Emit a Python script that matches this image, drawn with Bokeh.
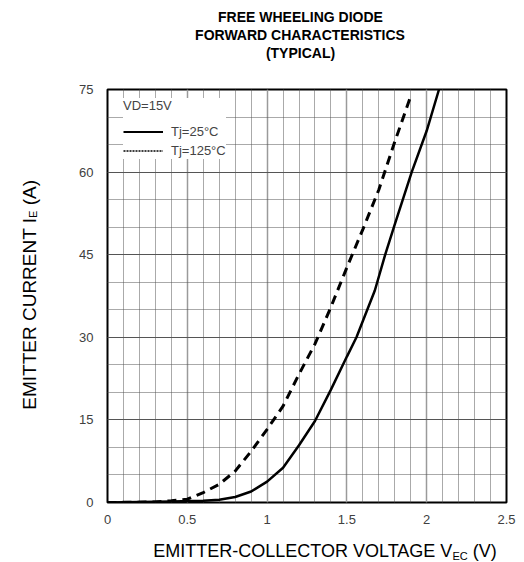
from bokeh.plotting import figure
from bokeh.models import FixedTicker, Legend, LegendItem, Title, Div
from bokeh.layouts import column, row
from bokeh.embed import file_html
from bokeh.resources import INLINE

# ---- data ----
v_25 = [0.0, 0.2, 0.4, 0.6, 0.7, 0.8, 0.9, 1.0, 1.1, 1.2, 1.3, 1.4, 1.5, 1.56, 1.675, 1.74, 1.8, 1.906, 2.0, 2.077]
i_25 = [0.0, 0.1, 0.2, 0.3, 0.5, 1.0, 2.0, 3.8, 6.3, 10.4, 14.8, 20.5, 26.5, 30.0, 38.5, 45.0, 50.5, 60.0, 67.5, 75.0]

v_125 = [0.0, 0.3, 0.4, 0.5, 0.6, 0.7, 0.8, 0.9, 1.0, 1.1, 1.2, 1.3, 1.4, 1.5, 1.6, 1.7, 1.8, 1.894]
i_125 = [0.0, 0.1, 0.3, 0.6, 1.8, 3.3, 5.7, 9.3, 13.3, 17.5, 23.3, 28.8, 35.5, 42.7, 49.6, 56.8, 65.5, 73.3]

x_ticks = [0, 0.5, 1.0, 1.5, 2.0, 2.5]
x_tick_labels = ["0", "0.5", "1", "1.5", "2", "2.5"]
x_minor = [round(0.1 * k, 1) for k in range(26)]
y_ticks = [0, 15, 30, 45, 60, 75]
y_minor = list(range(0, 76, 5))

title_lines = ["FREE WHEELING DIODE", "FORWARD CHARACTERISTICS", "(TYPICAL)"]
legend_title = "VD=15V"
series_labels = ["Tj=25°C", "Tj=125°C"]
x_title = ("EMITTER-COLLECTOR VOLTAGE V", "EC", " (V)")
y_title = ("EMITTER CURRENT I", "E", " (A)")

FONT = "Liberation Sans"

# Arial Bold advance widths (1/1000 em) for centring the title lines
BW = {' ': 278, '(': 333, ')': 333, 'A': 722, 'B': 722, 'C': 722, 'D': 722, 'E': 667, 'F': 611,
      'G': 778, 'H': 722, 'I': 278, 'L': 611, 'N': 722, 'O': 778, 'P': 667, 'R': 722, 'S': 667,
      'T': 611, 'W': 944, 'Y': 667}

FIG_W, FIG_H = 484, 540
YT_W = 524 - FIG_W
XT_H = 562 - FIG_H
LEFT = 67
FRAME_L = YT_W + LEFT          # frame's left edge on the page
TITLE_CX = 300                 # centre of the title on the page
TITLE_SZ = 14

p = figure(width=FIG_W, height=FIG_H, x_range=(0, 2.5), y_range=(0, 75),
           output_backend="svg", toolbar_location=None,
           min_border_left=LEFT, min_border_right=18, min_border_top=89, min_border_bottom=38)
p.background_fill_color = "white"
p.border_fill_color = "white"
p.outline_line_color = "black"
p.outline_line_width = 2

for ax in (p.xaxis[0], p.yaxis[0]):
    ax.axis_line_color = None
    ax.major_tick_line_color = None
    ax.minor_tick_line_color = None
    ax.major_tick_out = 0
    ax.major_tick_in = 0
    ax.minor_tick_out = 0
    ax.major_label_text_font = FONT
    ax.major_label_text_font_size = "13px"
    ax.major_label_text_color = "#404040"

p.xaxis.ticker = FixedTicker(ticks=x_ticks, minor_ticks=x_minor)
p.xaxis.major_label_overrides = {t: l for t, l in zip(x_ticks, x_tick_labels)}
p.xaxis.major_label_standoff = 12
p.yaxis.ticker = FixedTicker(ticks=y_ticks, minor_ticks=y_minor)
p.yaxis.major_label_standoff = 14

p.xgrid.grid_line_color = "#9a9a9a"
p.xgrid.grid_line_width = 1.5
p.xgrid.minor_grid_line_color = "#555555"
p.xgrid.minor_grid_line_dash = "1 1"
p.xgrid.minor_grid_line_width = 1
p.ygrid.grid_line_color = "#555555"
p.ygrid.grid_line_width = 1
p.ygrid.minor_grid_line_color = "#555555"
p.ygrid.minor_grid_line_dash = "1 1"
p.ygrid.minor_grid_line_width = 1

p.line(v_25, i_25, line_color="black", line_width=2.5)
p.line(v_125, i_125, line_color="black", line_width=3, line_dash="9 6")

# legend-only renderers (a single point draws no visible line)
leg_solid = p.line(v_25[:1], i_25[:1], line_color="black", line_width=2)
leg_dot = p.line(v_125[:1], i_125[:1], line_color="black", line_width=1.5, line_dash="2 1")

legend = Legend(items=[LegendItem(label=series_labels[0], renderers=[leg_solid]),
                       LegendItem(label=series_labels[1], renderers=[leg_dot])],
                title=legend_title, location=(16, 343))
legend.margin = 0
legend.padding = 5
legend.spacing = 2
legend.glyph_width = 40
legend.glyph_height = 17
legend.label_height = 17
legend.label_standoff = 8
legend.border_line_color = None
legend.background_fill_color = "white"
legend.background_fill_alpha = 1
legend.label_text_font = FONT
legend.label_text_font_size = "13px"
legend.title_text_font = FONT
legend.title_text_font_size = "13px"
legend.title_text_font_style = "normal"
legend.title_standoff = 10
p.add_layout(legend)

# ---- chart title: an empty spacer next to the frame, then three lines upward ----
p.add_layout(Title(text=" ", text_font=FONT, text_font_size="24px", standoff=0,
                   text_line_height=1.0), "above")
for line in reversed(title_lines):
    w = sum(BW.get(c, 667) for c in line) * TITLE_SZ / 1000.0
    p.add_layout(Title(text=line, align="left", offset=TITLE_CX - w / 2 - FRAME_L, text_font=FONT,
                       text_font_size=f"{TITLE_SZ}px", text_font_style="bold", text_color="black",
                       standoff=0, text_line_height=1.15), "above")

# ---- axis titles (with subscripts) ----
x_css = f"font-family:'{FONT}';font-size:18px;color:black;white-space:nowrap;"
y_css = f"font-family:'{FONT}';font-size:19px;color:black;white-space:nowrap;"
sub_css = "font-size:11px;vertical-align:-3px;line-height:0"
xdiv = Div(text=(f'<div style="{x_css}width:{524 - 126}px;text-align:center;line-height:{XT_H}px;">'
                 f'{x_title[0]}<sub style="{sub_css}">{x_title[1]}</sub>{x_title[2]}</div>'),
           width=524, height=XT_H, margin=0, styles={"padding-left": "126px", "box-sizing": "border-box"})
ydiv = Div(text=(f'<div style="width:{YT_W}px;height:{FIG_H}px;display:flex;align-items:center;'
                 f'justify-content:center;padding-top:50px;padding-left:20px;box-sizing:border-box;">'
                 f'<div style="{y_css}writing-mode:vertical-rl;transform:rotate(180deg);">'
                 f'{y_title[0]}<sub style="{sub_css}">{y_title[1]}</sub>{y_title[2]}</div></div>'),
           width=YT_W, height=FIG_H, margin=0)

layout = column(row(ydiv, p, spacing=0), xdiv, spacing=0)
open("out.html", "w").write(file_html(layout, INLINE))
